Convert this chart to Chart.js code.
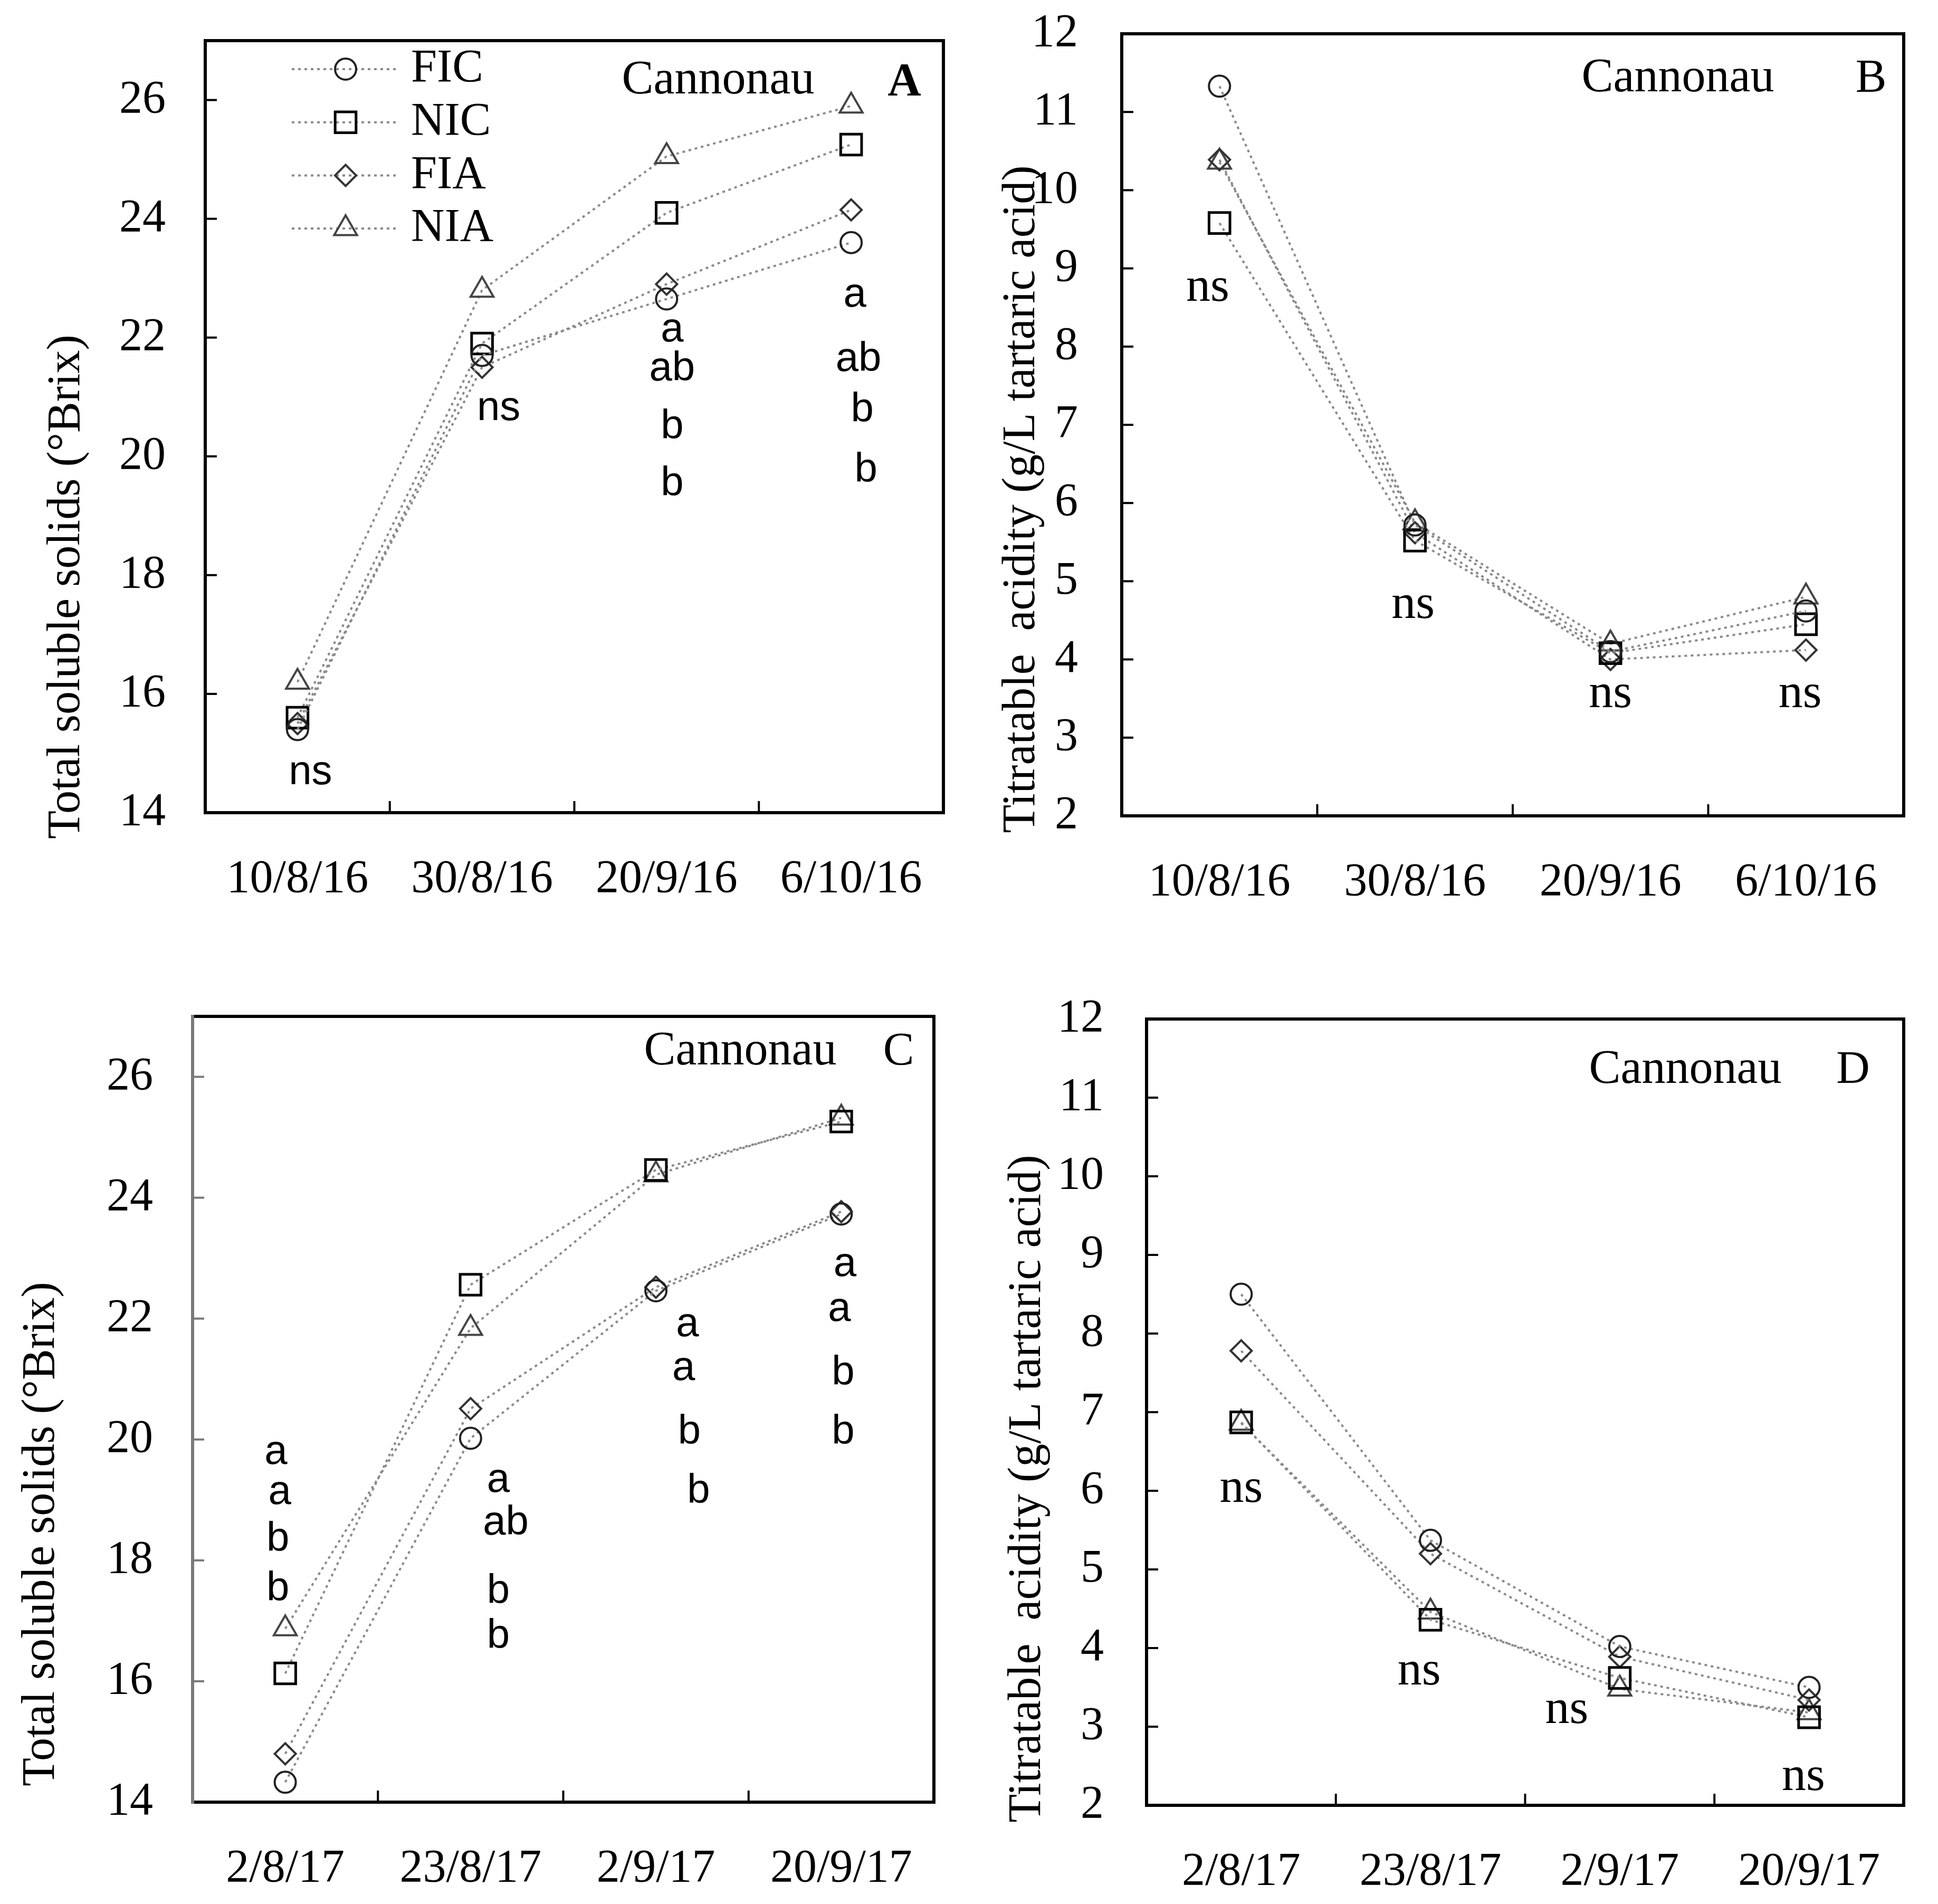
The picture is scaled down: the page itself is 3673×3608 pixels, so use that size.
<!DOCTYPE html>
<html>
<head>
<meta charset="utf-8">
<title>Cannonau ripening</title>
<script src="https://cdn.jsdelivr.net/npm/chart.js@4.4.1/dist/chart.umd.min.js"></script>
<style>
  html, body { margin: 0; padding: 0; background: #fff; }
  #page { position: relative; width: 3673px; height: 3608px; background: #fff; }
  canvas { position: absolute; }
</style>
</head>
<body>
<div id="page">
  <canvas id="panelA" width="1836" height="1804" style="left:0px;top:0px"></canvas>
  <canvas id="panelB" width="1837" height="1804" style="left:1836px;top:0px"></canvas>
  <canvas id="panelC" width="1836" height="1804" style="left:0px;top:1804px"></canvas>
  <canvas id="panelD" width="1837" height="1804" style="left:1836px;top:1804px"></canvas>
</div>
<script>
// treatments, in legend order
const treatments = ["FIC", "NIC", "FIA", "NIA"];

// sampling dates
const dates2016 = ["10/8/16", "30/8/16", "20/9/16", "6/10/16"];
const dates2017 = ["2/8/17", "23/8/17", "2/9/17", "20/9/17"];

// A - total soluble solids 2016 (°Brix)
const tssFIC16 = [15.4, 21.7, 22.65, 23.6];
const tssNIC16 = [15.6, 21.9, 24.1, 25.25];
const tssFIA16 = [15.5, 21.5, 22.9, 24.15];
const tssNIA16 = [16.2, 22.8, 25.05, 25.9];

// B - titratable acidity 2016 (g/L tartaric acid)
const taFIC16 = [11.33, 5.72, 4.1, 4.62];
const taNIC16 = [9.58, 5.52, 4.08, 4.45];
const taFIA16 = [10.39, 5.62, 4.0, 4.12];
const taNIA16 = [10.36, 5.75, 4.2, 4.8];

// C - total soluble solids 2017 (°Brix)
const tssFIC17 = [14.33, 20.02, 22.46, 23.73];
const tssNIC17 = [16.13, 22.56, 24.46, 25.26];
const tssFIA17 = [14.8, 20.51, 22.52, 23.77];
const tssNIA17 = [16.87, 21.84, 24.38, 25.32];

// D - titratable acidity 2017 (g/L tartaric acid)
const taFIC17 = [8.5, 5.37, 4.02, 3.5];
const taNIC17 = [6.87, 4.36, 3.62, 3.12];
const taFIA17 = [7.78, 5.2, 3.89, 3.34];
const taNIA17 = [6.86, 4.46, 3.48, 3.18];

// significance letters: [text, date position, value]
const lettersA = [
  ["ns", 0.07, 14.67], ["ns", 1.09, 20.8],
  ["a", 2.03, 22.13], ["ab", 2.03, 21.47], ["b", 2.03, 20.49], ["b", 2.03, 19.53],
  ["a", 3.02, 22.71], ["ab", 3.04, 21.63], ["b", 3.06, 20.78], ["b", 3.08, 19.76]
];
const lettersB = [["ns", -0.06, 8.75], ["ns", 0.99, 4.69], ["ns", 2.0, 3.55], ["ns", 2.97, 3.55]];
const lettersC = [
  ["a", -0.05, 19.78], ["a", -0.03, 19.12], ["b", -0.04, 18.34], ["b", -0.04, 17.52],
  ["a", 1.15, 19.32], ["ab", 1.19, 18.61], ["b", 1.15, 17.48], ["b", 1.15, 16.74],
  ["a", 2.17, 21.9], ["a", 2.15, 21.17], ["b", 2.18, 20.12], ["b", 2.23, 19.14],
  ["a", 3.02, 22.89], ["a", 2.99, 22.15], ["b", 3.01, 21.09], ["b", 3.01, 20.12]
];
const lettersD = [["ns", 0.0, 6.02], ["ns", 0.94, 3.7], ["ns", 1.72, 3.21], ["ns", 2.97, 2.36]];

const serif = '"Liberation Serif", "Times New Roman", serif';
const sans = '"Liberation Sans", Arial, sans-serif';

// marker look per treatment
const marks = [
  { shape: "circle",   radius: 20, color: "#222", width: 4 },
  { shape: "rect",     radius: 28, color: "#000", width: 5 },
  { shape: "rectRot",  radius: 20, color: "#333", width: 4 },
  { shape: "triangle", radius: 25, color: "#444", width: 4 }
];

// frame, inward ticks, titles, letters and key
const panelDecor = {
  id: "panelDecor",
  afterDraw(chart, args, o) {
    const ctx = chart.ctx, a = chart.chartArea;
    const xs = chart.scales.x, ys = chart.scales.y;
    ctx.save();

    ctx.lineWidth = 4;
    ctx.strokeStyle = o.leftColor;
    ys.ticks.forEach(t => {
      const py = ys.getPixelForValue(t.value);
      if (py > a.bottom - 5 || py < a.top + 5) return;
      ctx.beginPath(); ctx.moveTo(a.left, py); ctx.lineTo(a.left + 22, py); ctx.stroke();
    });
    ctx.strokeStyle = "#000";
    for (let i = 1; i < xs.ticks.length; i++) {
      const px = (xs.getPixelForValue(i - 1) + xs.getPixelForValue(i)) / 2;
      ctx.beginPath(); ctx.moveTo(px, a.bottom); ctx.lineTo(px, a.bottom - 22); ctx.stroke();
    }

    ctx.lineWidth = 6;
    ctx.lineCap = "square";
    ctx.strokeStyle = "#000";
    ctx.beginPath();
    ctx.moveTo(a.left, a.bottom); ctx.lineTo(a.right, a.bottom);
    ctx.lineTo(a.right, a.top); ctx.lineTo(a.left, a.top);
    ctx.stroke();
    ctx.strokeStyle = o.leftColor;
    ctx.beginPath(); ctx.moveTo(a.left, a.top); ctx.lineTo(a.left, a.bottom); ctx.stroke();

    ctx.fillStyle = "#000";
    // y axis title
    ctx.save();
    ctx.translate(o.titleAt[0], o.titleAt[1]);
    ctx.rotate(-Math.PI / 2);
    ctx.font = "88px " + serif;
    ctx.textAlign = "center";
    ctx.textBaseline = "middle";
    ctx.fillText(o.title, 0, 0);
    ctx.restore();

    // variety and panel tag
    ctx.textAlign = "center";
    ctx.textBaseline = "alphabetic";
    ctx.font = "90px " + serif;
    ctx.fillText("Cannonau", o.varietyAt[0], o.varietyAt[1]);
    ctx.font = (o.tagBold ? "bold " : "") + "88px " + serif;
    ctx.fillText(o.tag, o.tagAt[0], o.tagAt[1]);

    // significance letters
    ctx.font = o.letterFont;
    ctx.textBaseline = "middle";
    o.letters.forEach(([txt, xi, v]) => {
      ctx.fillText(txt, xs.getPixelForValue(xi), ys.getPixelForValue(v));
    });

    // key
    if (o.key) {
      const k = o.key;
      chart.data.datasets.forEach((ds, i) => {
        const y = k.y0 + i * k.dy;
        ctx.save();
        ctx.strokeStyle = ds.borderColor;
        ctx.lineWidth = ds.borderWidth;
        ctx.setLineDash(ds.borderDash);
        ctx.lineCap = "butt";
        ctx.beginPath(); ctx.moveTo(k.x0, y); ctx.lineTo(k.x1, y); ctx.stroke();
        ctx.restore();
        ctx.save();
        ctx.setLineDash([]);
        ctx.strokeStyle = ds.pointBorderColor;
        ctx.lineWidth = ds.pointBorderWidth;
        ctx.fillStyle = "rgba(0,0,0,0)";
        Chart.helpers.drawPoint(ctx, {
          pointStyle: ds.pointStyle, radius: ds.pointRadius,
          borderWidth: ds.pointBorderWidth, rotation: 0
        }, k.xm, y);
        ctx.restore();
        ctx.fillStyle = "#000";
        ctx.font = "88px " + serif;
        ctx.textAlign = "left";
        ctx.textBaseline = "middle";
        ctx.fillText(ds.label, k.xt, y);
      });
    }
    ctx.restore();
  }
};

// page coordinates of each panel
const panels = [
  { id: "panelA", origin: [0, 0],
    area: { left: 389, top: 77, right: 1788, bottom: 1540 },
    labels: dates2016, series: [tssFIC16, tssNIC16, tssFIA16, tssNIA16],
    yMin: 14, yMax: 27, yStep: 2, yPad: 75,
    title: "Total soluble solids (°Brix)", titleAt: [127, 1112],
    tag: "A", tagBold: true, tagAt: [1714, 180], varietyAt: [1361, 177],
    letters: lettersA, letterFont: "78px " + sans, leftColor: "#000",
    key: { x0: 553, x1: 750, xm: 655, xt: 779, y0: 131, dy: 100.7 } },
  { id: "panelB", origin: [1836, 0],
    area: { left: 2126, top: 64, right: 3608, bottom: 1546 },
    labels: dates2016, series: [taFIC16, taNIC16, taFIA16, taNIA16],
    yMin: 2, yMax: 12, yStep: 1, yPad: 83,
    title: "Titratable  acidity (g/L tartaric acid)", titleAt: [1937, 946],
    tag: "B", tagBold: false, tagAt: [3546, 173], varietyAt: [3180, 173],
    letters: lettersB, letterFont: "92px " + serif, leftColor: "#000" },
  { id: "panelC", origin: [0, 1804],
    area: { left: 365, top: 1926, right: 1770, bottom: 3415 },
    labels: dates2017, series: [tssFIC17, tssNIC17, tssFIA17, tssNIA17],
    yMin: 14, yMax: 27, yStep: 2, yPad: 75,
    title: "Total soluble solids (°Brix)", titleAt: [79, 2907],
    tag: "C", tagBold: false, tagAt: [1703, 2017], varietyAt: [1403, 2017],
    letters: lettersC, letterFont: "78px " + sans, leftColor: "#7a7a7a" },
  { id: "panelD", origin: [1836, 1804],
    area: { left: 2173, top: 1931, right: 3608, bottom: 3421 },
    labels: dates2017, series: [taFIC17, taNIC17, taFIA17, taNIA17],
    yMin: 2, yMax: 12, yStep: 1, yPad: 81,
    title: "Titratable  acidity (g/L tartaric acid)", titleAt: [1948, 2821],
    tag: "D", tagBold: false, tagAt: [3512, 2052], varietyAt: [3194, 2052],
    letters: lettersD, letterFont: "92px " + serif, leftColor: "#000" }
];

function makePanel(p) {
  const canvas = document.getElementById(p.id);
  const ox = p.origin[0], oy = p.origin[1];
  const at = pt => [pt[0] - ox, pt[1] - oy];

  // the axes take all the room left of and below the plot area
  const axisW = p.area.left - ox;
  const axisH = canvas.height - (p.area.bottom - oy);
  const noOverhang = s => { s.paddingTop = 0; s.paddingBottom = 0; s.paddingLeft = 0; s.paddingRight = 0; };

  const datasets = p.series.map((values, i) => ({
    label: treatments[i],
    data: values,
    borderColor: "#8a8a8a",
    borderWidth: 4,
    borderDash: [5, 7],
    fill: false,
    tension: 0,
    pointStyle: marks[i].shape,
    pointRadius: marks[i].radius,
    pointBorderColor: marks[i].color,
    pointBorderWidth: marks[i].width,
    pointBackgroundColor: "rgba(0,0,0,0)"
  }));

  const key = p.key ? {
    x0: p.key.x0 - ox, x1: p.key.x1 - ox, xm: p.key.xm - ox, xt: p.key.xt - ox,
    y0: p.key.y0 - oy, dy: p.key.dy
  } : null;

  return new Chart(canvas, {
    type: "line",
    data: { labels: p.labels, datasets },
    options: {
      responsive: false,
      animation: false,
      devicePixelRatio: 1,
      layout: {
        padding: {
          left: 0,
          top: p.area.top - oy,
          right: canvas.width - (p.area.right - ox),
          bottom: 0
        }
      },
      plugins: {
        legend: { display: false },
        tooltip: { enabled: false },
        panelDecor: {
          title: p.title, titleAt: at(p.titleAt),
          tag: p.tag, tagBold: p.tagBold, tagAt: at(p.tagAt), varietyAt: at(p.varietyAt),
          letters: p.letters, letterFont: p.letterFont, leftColor: p.leftColor, key
        }
      },
      scales: {
        x: {
          type: "category",
          offset: true,
          grid: { display: false, drawTicks: false },
          border: { display: false },
          ticks: {
            font: { family: serif, size: 88 },
            color: "#000", padding: 74, maxRotation: 0, autoSkip: false
          },
          afterFit: s => { s.height = axisH; noOverhang(s); }
        },
        y: {
          min: p.yMin, max: p.yMax,
          grid: { display: false, drawTicks: false },
          border: { display: false },
          ticks: {
            stepSize: p.yStep, includeBounds: false,
            font: { family: serif, size: 88 },
            color: "#000", padding: p.yPad
          },
          afterFit: s => { s.width = axisW; noOverhang(s); }
        }
      }
    },
    plugins: [panelDecor]
  });
}

panels.forEach(makePanel);
</script>
</body>
</html>
